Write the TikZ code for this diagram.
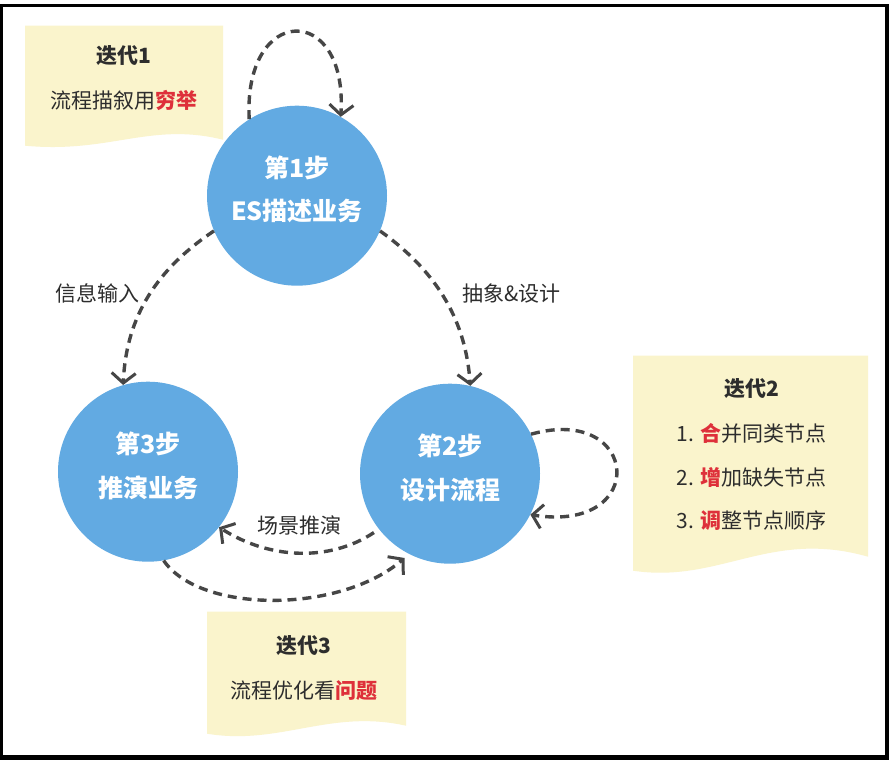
\documentclass[tikz,border=0pt]{standalone}
\usepackage{fontspec}
\setmainfont{Noto Sans CJK SC}
\usetikzlibrary{arrows.meta}
\definecolor{stepblue}{RGB}{98,170,226}
\definecolor{notey}{RGB}{250,244,204}
\definecolor{hotred}{RGB}{222,48,58}
\definecolor{ink}{RGB}{70,70,70}
\definecolor{txt}{RGB}{45,45,45}
\newcommand{\hot}[1]{{\bfseries\color{hotred}#1}}
\newcommand{\steptxt}[2]{\raisebox{0pt}[\height][\dimexpr\depth+11pt\relax]{\begin{tabular}{@{}c@{}}#1\\#2\end{tabular}}}

\begin{document}
\begin{tikzpicture}[x=1pt, y=-1pt, font=\fontsize{21}{25}\selectfont, text=txt,
  stepnode/.style={circle, fill=stepblue, minimum size=180pt, inner sep=0pt, text=white, font=\fontsize{25}{44}\selectfont\bfseries},
  flow/.style={ink, line width=3.4pt, dash pattern=on 9pt off 6pt, -{Straight Barb[length=10pt, width=24pt, line width=3pt]}},
  lbl/.style={text=txt}, title/.style={font=\fontsize{21}{25}\selectfont\bfseries}]
\fill[black] (0,0) rectangle (889,756); \fill[white] (3,3) rectangle (885,751);
% notes
\fill[notey] (25,22) -- (223,22) -- (223,136) .. controls (150,118) and (110,150) .. (25,142) -- cycle;
\fill[notey] (633,352) -- (868,352) -- (868,553) .. controls (770,525) and (720,580) .. (633,567) -- cycle;
\fill[notey] (207,608) -- (406,608) -- (406,722) .. controls (330,705) and (280,742) .. (207,730) -- cycle;
\node[title] (t1) at (124,52) {迭代1}; \node (n1) at (124,97) {流程描叙用\hot{穷举}};
\node[title] (t2) at (752,385) {迭代2};
\node[anchor=west] (n2a) at (673,430) {1. \hot{合}并同类节点}; \node[anchor=west] (n2b) at (673,474) {2. \hot{增}加缺失节点}; \node[anchor=west] (n2c) at (673,517) {3. \hot{调}整节点顺序};
\node[title] (t3) at (304,642) {迭代3}; \node (n3) at (304,687) {流程优化看\hot{问题}};
% steps
\node[stepnode] (s1) at (297,192) {\steptxt{第1步}{ES描述业务}};
\node[stepnode] (s2) at (450,470) {\steptxt{第2步}{设计流程}};
\node[stepnode] (s3) at (148,468) {\steptxt{第3步}{推演业务}};
% arrows
\draw[flow] (s1.122) .. controls (243,0) and (348,-2) .. (s1.61);
\draw[flow] (s1.203) .. controls (150,270) and (126,320) .. (s3.106) node[pos=0.45, left=6pt, lbl] (l1) {信息输入};
\draw[flow] (s1.337) .. controls (440,270) and (466,320) .. (s2.77) node[pos=0.45, right=16pt, lbl] (l2) {抽象\&设计};
\draw[flow, shorten <=6pt] (s2.218) .. controls (330,558) and (270,556) .. (s3.322) node[pos=0.5, above=12pt, lbl] (l3) {场景推演};
\draw[flow, shorten >=6pt] (s3.280) .. controls (200,610) and (340,610) .. (s2.243);
\draw[flow] (s2.26) .. controls (640,400) and (650,530) .. (s2.-27);
\end{tikzpicture}
\end{document}
